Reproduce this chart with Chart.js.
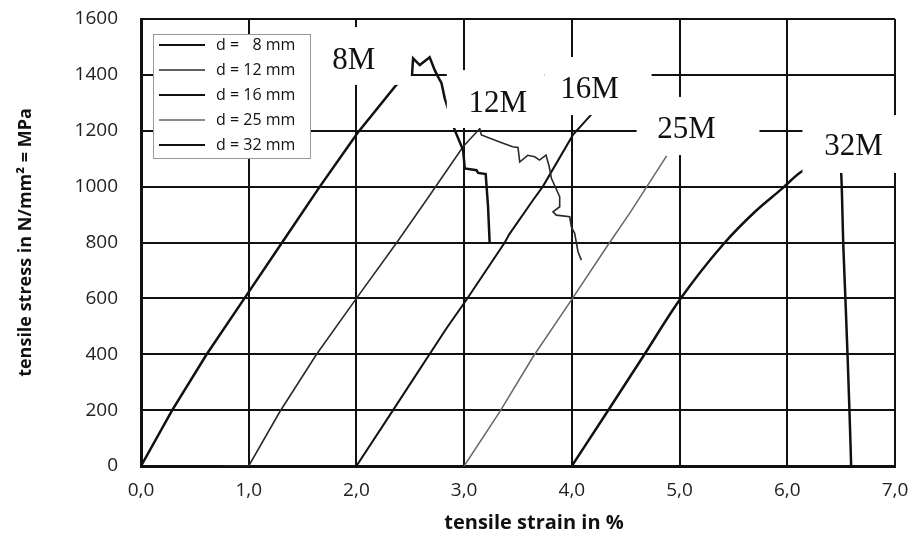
<!DOCTYPE html>
<html>
<head>
<meta charset="utf-8">
<script src="https://cdn.jsdelivr.net/npm/chart.js@4"></script>
<style>
  html, body { margin: 0; padding: 0; background: #fff; }
  canvas { display: block; }
</style>
</head>
<body>
<canvas id="chart" width="908" height="535"></canvas>
<script>
// stress-strain curves of the bars, strain in %, stress in MPa
const strain8 = [0, 0.29, 0.61, 0.96, 1.31, 1.66, 2.01, 2.37, 2.517, 2.526, 2.588, 2.68, 2.727, 2.758, 2.79, 2.82, 2.913, 2.99, 3.006, 3.114, 3.13, 3.2, 3.222, 3.237];
const stress8 = [0, 200, 400, 600, 800, 1000, 1192, 1364, 1405, 1459, 1435, 1463, 1417, 1393, 1370, 1316, 1202, 1131, 1065, 1059, 1049, 1045, 928, 797];

const strain12 = [0.76, 1.0, 1.29, 1.63, 2.0, 2.37, 2.65, 2.99, 3.145, 3.16, 3.33, 3.45, 3.5, 3.516, 3.59, 3.655, 3.7, 3.76, 3.79, 3.81, 3.887, 3.887, 3.825, 3.856, 3.98, 3.995, 4.026, 4.057, 4.088];
const stress12 = [0, 0, 195, 400, 600, 797, 952, 1143, 1208, 1185, 1160, 1143, 1140, 1088, 1112, 1107, 1095, 1113, 1071, 1030, 964, 928, 910, 898, 892, 856, 833, 767, 737];

const strain16 = [2.0, 2.31, 2.54, 2.65, 2.835, 3.02, 3.377, 3.42, 3.64, 3.73, 4.01, 4.19];
const stress16 = [0, 182, 318, 383, 492, 594, 800, 830, 952, 1000, 1185, 1262];

const strain25 = [3.0, 3.33, 3.64, 3.995, 4.335, 4.536, 4.88];
const stress25 = [0, 194, 391, 594, 791, 904, 1110];

const strain32 = [4.0, 4.32, 4.66, 5.0, 5.4, 5.7, 5.943, 6.13, 6.45, 6.5, 6.52, 6.54, 6.56, 6.578, 6.593];
const stress32 = [0, 189, 391, 594, 791, 910, 990, 1053, 1110, 1048, 791, 594, 391, 189, 0];

const legendLabels = ['d = \u20078 mm', 'd = 12 mm', 'd = 16 mm', 'd = 25 mm', 'd = 32 mm'];

// curve tags: text anchor (baseline) and white backing box [x0, x1, y0, y1]
const tags = [
  { text: '8M',  x: 1.976, y: 1421, box: [1.577, 2.505, 1364, 1571] },
  { text: '12M', x: 3.312, y: 1267, box: [2.839, 3.748, 1210, 1417] },
  { text: '16M', x: 4.165, y: 1317, box: [3.748, 4.740, 1256, 1464] },
  { text: '25M', x: 5.065, y: 1174, box: [4.601, 5.742, 1113, 1321] },
  { text: '32M', x: 6.614, y: 1113, box: [6.141, 7.040, 1049, 1256] }
];

const xTitle = 'tensile strain in %';

const toPoints = (xs, ys) => xs.map((v, i) => ({ x: v, y: ys[i] }));

const curve = (label, xs, ys, color, width, smooth) => ({
  label,
  data: toPoints(xs, ys),
  showLine: true,
  borderColor: color,
  borderWidth: width,
  pointRadius: 0,
  tension: 0,
  cubicInterpolationMode: smooth ? 'monotone' : 'default',
  fill: false
});

const tagPlugin = {
  id: 'tags',
  afterDatasetsDraw(chart) {
    const { ctx, scales: { x, y } } = chart;
    ctx.save();
    tags.forEach(t => {
      const x0 = x.getPixelForValue(t.box[0]);
      const x1 = x.getPixelForValue(t.box[1]);
      const y0 = y.getPixelForValue(t.box[3]);
      const y1 = y.getPixelForValue(t.box[2]);
      ctx.fillStyle = '#fff';
      ctx.fillRect(x0, y0, x1 - x0, y1 - y0);
      ctx.fillStyle = '#111';
      ctx.font = '31px "Liberation Serif", serif';
      ctx.textAlign = 'center';
      ctx.textBaseline = 'alphabetic';
      ctx.fillText(t.text, x.getPixelForValue(t.x), y.getPixelForValue(t.y));
    });
    ctx.restore();
  }
};

// boxed legend in the top left corner of the plot
const boxLegend = {
  id: 'boxLegend',
  afterDatasetsDraw(chart) {
    const { ctx, chartArea } = chart;
    const left = chartArea.left + 12;
    const top = chartArea.top + 15;
    ctx.save();
    ctx.fillStyle = '#fff';
    ctx.fillRect(left, top, 157, 124);
    ctx.strokeStyle = '#999';
    ctx.lineWidth = 1;
    ctx.strokeRect(left + 0.5, top + 0.5, 157, 124);
    ctx.font = '16px "Open Sans", sans-serif';
    ctx.textAlign = 'left';
    ctx.textBaseline = 'middle';
    chart.data.datasets.forEach((ds, i) => {
      const cy = top + 11 + i * 25;
      ctx.strokeStyle = ds.borderColor;
      ctx.lineWidth = Math.min(ds.borderWidth, 2.2);
      ctx.beginPath();
      ctx.moveTo(left + 6, cy);
      ctx.lineTo(left + 52, cy);
      ctx.stroke();
      ctx.fillStyle = '#111';
      ctx.fillText(ds.label, left + 63, cy);
    });
    ctx.restore();
  }
};

// x axis title, sitting a little right of the plot centre
const xTitlePlugin = {
  id: 'xTitle',
  afterDraw(chart) {
    const { ctx, chartArea } = chart;
    ctx.save();
    ctx.font = 'bold 20px "Open Sans", sans-serif';
    ctx.fillStyle = '#111';
    ctx.textAlign = 'center';
    ctx.textBaseline = 'middle';
    ctx.fillText(xTitle, (chartArea.left + chartArea.right) / 2 + 16, chartArea.bottom + 57);
    ctx.restore();
  }
};

// fixed axis sizes, no extra room for overhanging tick labels
const fixSize = (w, h) => s => {
  if (w) s.width = w;
  if (h) s.height = h;
  s.paddingTop = s.paddingBottom = s.paddingLeft = s.paddingRight = 0;
};

const tickFont = { family: '"Open Sans", sans-serif', size: 19 };
const titleFont = { family: '"Open Sans", sans-serif', size: 18, weight: 'bold' };

new Chart(document.getElementById('chart'), {
  type: 'scatter',
  data: {
    datasets: [
      curve(legendLabels[0], strain8, stress8, '#111', 2.5),
      curve(legendLabels[1], strain12, stress12, '#2a2a2a', 1.6),
      curve(legendLabels[2], strain16, stress16, '#111', 2),
      curve(legendLabels[3], strain25, stress25, '#666', 1.5),
      curve(legendLabels[4], strain32, stress32, '#111', 2.5, true)
    ]
  },
  options: {
    responsive: false,
    devicePixelRatio: 1,
    animation: false,
    layout: { padding: { top: 19, right: 13, left: 0, bottom: 0 } },
    plugins: {
      legend: { display: false },
      tooltip: { enabled: false }
    },
    scales: {
      x: {
        type: 'linear',
        min: 0,
        max: 7,
        afterFit: fixSize(0, 69),
        grid: { color: '#111', lineWidth: 2, drawTicks: false },
        border: { color: '#111', width: 3 },
        ticks: {
          stepSize: 1,
          padding: 13,
          color: '#222',
          font: tickFont,
          callback: v => v.toFixed(1).replace('.', ',')
        },
        title: { display: false }
      },
      y: {
        min: 0,
        max: 1600,
        afterFit: fixSize(141, 0),
        grid: { color: '#111', lineWidth: 2, drawTicks: false },
        border: { color: '#111', width: 3 },
        ticks: {
          stepSize: 200,
          padding: 23,
          color: '#222',
          font: tickFont,
          callback: v => String(v)
        },
        title: {
          display: true,
          text: 'tensile stress in N/mm² = MPa',
          color: '#111',
          font: titleFont,
          padding: { top: 15, bottom: 0 }
        }
      }
    }
  },
  plugins: [tagPlugin, boxLegend, xTitlePlugin]
});
</script>
</body>
</html>
